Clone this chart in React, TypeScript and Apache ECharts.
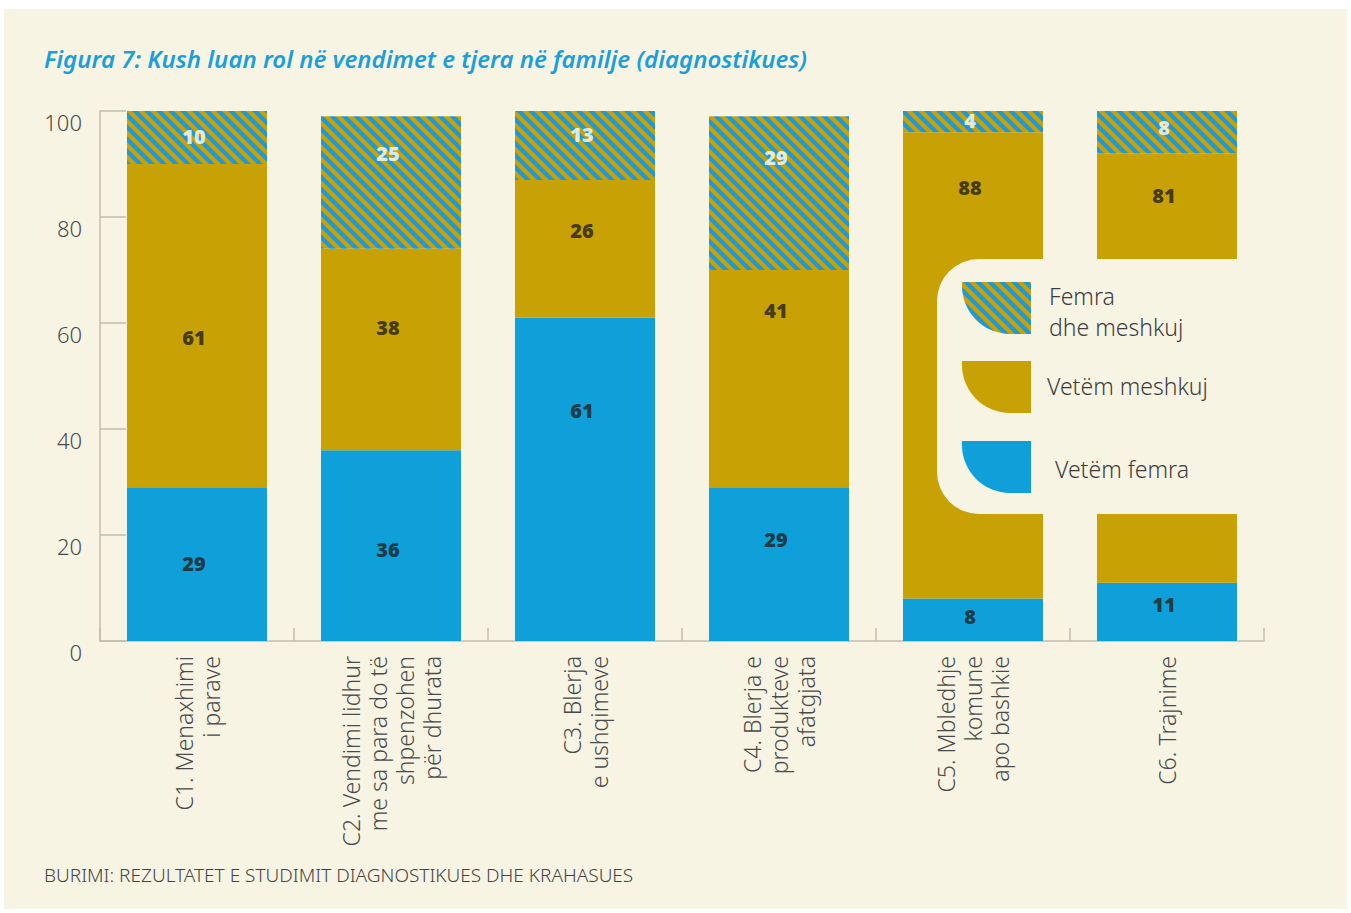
import React, { useEffect, useRef } from "react";
import * as echarts from "echarts";

const categories = [
  "C1. Menaxhimi\ni parave",
  "C2. Vendimi lidhur\nme sa para do të\nshpenzohen\npër dhurata",
  "C3. Blerja\ne ushqimeve",
  "C4. Blerja e\nprodukteve\nafatgjata",
  "C5. Mbledhje\nkomune\napo bashkie",
  "C6. Trajnime",
];
const onlyWomen = [29, 36, 61, 29, 8, 11];
const onlyMen = [61, 38, 26, 41, 88, 81];
const both = [10, 25, 13, 29, 4, 8];
// where each value label sits (in % units)
const womenLabelAt = [14.7, 17.2, 43.4, 19.1, 4.7, 6.8];
const menLabelAt = [57.2, 59.2, 77.5, 62.3, 85.5, 84.0];
const bothLabelAt = [95.1, 91.9, 95.5, 91.3, 98.3, 96.8];
const yTicks = [0, 20, 40, 60, 80, 100];

const legendNames = ["Femra\ndhe meshkuj", "Vetëm meshkuj", "Vetëm femra"];
const title = "Figura 7: Kush luan rol në vendimet e tjera në familje (diagnostikues)";
const source = "BURIMI: REZULTATET E STUDIMIT DIAGNOSTIKUES DHE KRAHASUES";

const BLUE = "#0fa0da";
const GOLD = "#c8a204";
const STRIPE_BLUE = "#1f98d4";
const CREAM = "#f8f4e4";
const FONT = "'Noto Sans', 'Open Sans', sans-serif";

function makeHatch() {
  const s = 12;
  const c = document.createElement("canvas");
  c.width = s;
  c.height = s;
  const ctx = c.getContext("2d")!;
  ctx.fillStyle = GOLD;
  ctx.fillRect(0, 0, s, s);
  ctx.strokeStyle = STRIPE_BLUE;
  ctx.lineWidth = s / 2 / Math.SQRT2;
  for (const k of [-s, 0, s]) {
    ctx.beginPath();
    ctx.moveTo(k - s, -s);
    ctx.lineTo(k + 2 * s, 2 * s);
    ctx.stroke();
  }
  return c;
}

export default function App() {
  const ref = useRef<HTMLDivElement>(null);
  useEffect(() => {
    document.body.style.margin = "0";
    const chart = echarts.init(ref.current!, null, { renderer: "svg" });
    const hatch = { image: makeHatch(), repeat: "repeat" } as any;

    const labelSeries = (at: number[], vals: number[], color: string) => ({
      type: "scatter",
      data: at.map((v, i) => [i, v, vals[i]]),
      symbolSize: 1,
      itemStyle: { color: "transparent" },
      silent: true,
      z: 5,
      label: {
        show: true,
        position: "inside",
        offset: [-3, 0],
        formatter: (p: any) => String(p.data[2]),
        color,
        fontFamily: FONT,
        fontWeight: 900,
        fontSize: 20,
      },
    });

    const iconY = [282, 361, 441];
    const iconFills = [hatch, GOLD, BLUE];
    const legendText = [
      { x: 1049, y: 311, lh: 31 },
      { x: 1047, y: 386, lh: 30 },
      { x: 1055, y: 469, lh: 30 },
    ];

    chart.setOption({
      animation: false,
      backgroundColor: CREAM,
      grid: { left: 100, right: 87, top: 111, bottom: 272, containLabel: false },
      xAxis: {
        type: "category",
        data: categories,
        boundaryGap: true,
        axisLine: { show: true, lineStyle: { color: "#c2bcae", width: 1.5 } },
        axisTick: { show: true, inside: true, length: 13, lineStyle: { color: "#c2bcae", width: 1.5 } },
        axisLabel: {
          interval: 0,
          rotate: 90,
          margin: 15,
          fontFamily: FONT,
          fontWeight: 300,
          fontSize: 23,
          lineHeight: 27,
          color: "#4a4a4a",
        },
        splitLine: { show: false },
      },
      yAxis: {
        type: "value",
        min: 0,
        max: 100,
        interval: 20,
        axisLine: { show: true, lineStyle: { color: "#c2bcae", width: 1.5 } },
        axisTick: { show: true, inside: true, length: 26, lineStyle: { color: "#c2bcae", width: 1.5 } },
        splitLine: { show: false },
        axisLabel: {
          margin: 18,
          fontFamily: FONT,
          fontWeight: 300,
          fontSize: 22,
          color: "#4a4a4a",
          verticalAlign: "top",
          formatter: (v: number) => (yTicks.includes(v) ? String(v) : ""),
        },
      },
      series: [
        { name: legendNames[2], type: "bar", stack: "t", barWidth: 140, data: onlyWomen, itemStyle: { color: BLUE } },
        { name: legendNames[1], type: "bar", stack: "t", barWidth: 140, data: onlyMen, itemStyle: { color: GOLD } },
        { name: legendNames[0], type: "bar", stack: "t", barWidth: 140, data: both, itemStyle: { color: hatch } },
        labelSeries(womenLabelAt, onlyWomen, "#231f20"),
        labelSeries(menLabelAt, onlyMen, "#231f20"),
        labelSeries(bothLabelAt, both, "#ffffff"),
      ],
      graphic: [
        {
          type: "text",
          z: 100,
          x: 44,
          y: 58,
          style: {
            text: title,
            fill: "#1a9fd9",
            font: `italic 600 24px ${FONT}`,
            textVerticalAlign: "middle",
          },
        },
        {
          type: "text",
          z: 100,
          x: 44,
          y: 875,
          style: {
            text: source,
            fill: "#444444",
            font: `300 19px ${FONT}`,
            textVerticalAlign: "middle",
          },
        },
        {
          type: "rect",
          z: 100,
          shape: { x: 937, y: 259, width: 420, height: 255, r: [42, 0, 0, 42] },
          style: { fill: CREAM },
        },
        ...iconY.map((y, i) => ({
          type: "rect",
          z: 101,
          shape: { x: 962, y, width: 69, height: 52, r: [0, 0, 0, 48] },
          style: { fill: iconFills[i] },
        })),
        ...legendNames.map((n, i) => ({
          type: "text",
          z: 101,
          x: legendText[i].x,
          y: legendText[i].y,
          style: {
            text: n,
            fill: "#3d3d3d",
            font: `300 23px ${FONT}`,
            lineHeight: legendText[i].lh,
            textVerticalAlign: "middle",
          },
        })),
        { type: "rect", z: 110, shape: { x: 0, y: 0, width: 1351, height: 9 }, style: { fill: "#ffffff" } },
        { type: "rect", z: 110, shape: { x: 0, y: 909, width: 1351, height: 4 }, style: { fill: "#ffffff" } },
        { type: "rect", z: 110, shape: { x: 0, y: 0, width: 4, height: 913 }, style: { fill: "#ffffff" } },
        { type: "rect", z: 110, shape: { x: 1347, y: 0, width: 4, height: 913 }, style: { fill: "#ffffff" } },
      ],
    } as any);
    return () => chart.dispose();
  }, []);
  return <div ref={ref} style={{ width: 1351, height: 913 }} />;
}
